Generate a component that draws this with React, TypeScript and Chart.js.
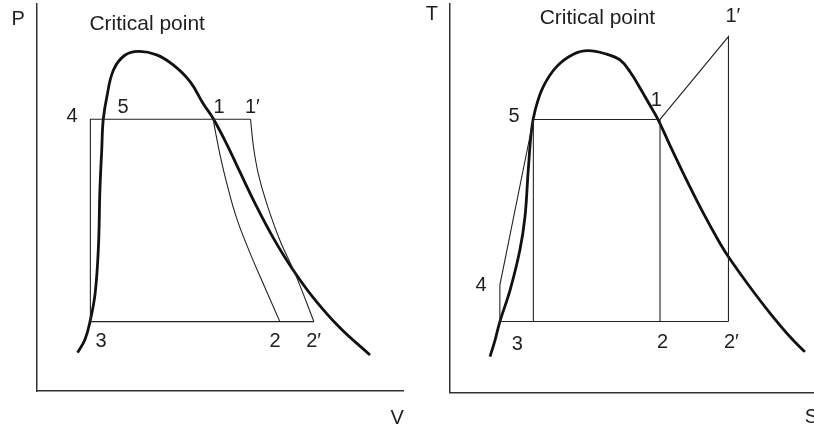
import React, { useEffect, useRef } from "react";
import { Chart, registerables } from "chart.js";
Chart.register(...registerables);

// ---------- P-V diagram ----------
const pvDomeV = [11.2, 13.2, 14.6, 16.0, 16.9, 17.3, 17.8, 18.2, 19.2, 21.0, 24.1, 27.9, 32.8, 37.3, 41.9, 45.5, 48.2, 51.9, 55.5, 60.1, 64.6, 69.6, 75.5, 82.8, 91.0];
const pvDomeP = [9.9, 13.2, 17.9, 25.2, 37.2, 51.8, 62.2, 69.9, 75.9, 82.8, 86.6, 87.6, 86.7, 84.1, 79.8, 74.1, 70.3, 63.7, 56.5, 47.5, 39.5, 31.8, 24.1, 16.3, 9.3];
const pvCycleV = [58.4, 14.7, 14.7, 75.7];
const pvCycleP = [70.1, 70.1, 17.9, 17.9];
const pvExpV = [48.2, 49.0, 50.1, 51.9, 54.6, 58.3, 61.9, 66.4];
const pvExpP = [70.1, 66.0, 60.8, 53.6, 44.6, 35.5, 27.6, 17.9];
const pvSupV = [58.4, 59.2, 60.5, 62.8, 66.4, 70.5, 75.7];
const pvSupP = [70.1, 63.0, 56.1, 48.4, 38.9, 30.4, 17.9];
const pvLabelText = ["P", "V", "Critical point", "4", "5", "1", "1\u2032", "3", "2", "2\u2032"];
const pvLabelV = [-5.0, 98.4, 30.2, 9.7, 23.6, 49.8, 58.9, 17.6, 65.1, 75.6];
const pvLabelP = [95.7, -7.2, 94.5, 70.8, 73.1, 73.1, 73.1, 12.9, 12.9, 12.9];

// ---------- T-S diagram ----------
const tsDomeS = [11.0, 12.4, 13.7, 16.5, 19.2, 20.6, 21.5, 22.4, 23.4, 25.6, 29.3, 33.9, 38.0, 43.0, 46.7, 49.5, 52.2, 54.9, 57.2, 60.4, 65.0, 69.6, 74.2, 76.9, 82.4, 87.9, 93.4, 97.5];
const tsDomeT = [9.3, 13.6, 18.3, 26.4, 36.7, 45.3, 57.3, 67.6, 72.7, 78.7, 83.9, 87.1, 88.0, 87.1, 85.6, 82.5, 78.4, 74.0, 70.2, 63.7, 54.7, 46.2, 38.4, 34.4, 27.2, 20.5, 14.4, 10.5];
const tsCycleS = [76.5, 13.7, 13.7, 22.9, 57.7, 76.5, 76.5];
const tsCycleT = [18.3, 18.3, 27.7, 70.3, 70.3, 91.6, 18.3];
const tsLine5S = [22.9, 22.9];
const tsLine5T = [70.3, 18.3];
const tsLine1S = [57.7, 57.7];
const tsLine1T = [70.3, 18.3];
const tsLabelText = ["T", "S", "Critical point", "1\u2032", "1", "5", "4", "3", "2", "2\u2032"];
const tsLabelS = [-5.0, 99.3, 40.5, 77.7, 56.7, 17.6, 8.5, 18.5, 58.4, 77.3];
const tsLabelT = [97.2, -6.5, 96.4, 96.7, 75.3, 71.0, 27.6, 12.5, 13.0, 13.0];

const FONT = '"Liberation Sans", Arial, Helvetica, sans-serif';

const zip = (xs: number[], ys: number[]) => xs.map((x, i) => ({ x, y: ys[i] }));

function makeLabelPlugin(texts: string[], xs: number[], ys: number[]) {
  return {
    id: "textLabels",
    afterDatasetsDraw(chart: any) {
      const { ctx, scales } = chart;
      ctx.save();
      ctx.fillStyle = "#1e1e1e";
      ctx.textAlign = "center";
      ctx.textBaseline = "middle";
      texts.forEach((t, i) => {
        const size = t.length > 3 ? 21 : 20;
        ctx.font = `${size}px ${FONT}`;
        ctx.fillText(t, scales.x.getPixelForValue(xs[i]), scales.y.getPixelForValue(ys[i]));
      });
      ctx.restore();
    },
  };
}

function thick(data: any) {
  return { data, showLine: true, borderColor: "#111", borderWidth: 2.8, pointRadius: 0, tension: 0.4, fill: false };
}
function thin(data: any, curved = false) {
  return { data, showLine: true, borderColor: "#222", borderWidth: 1.1, pointRadius: 0, tension: curved ? 0.4 : 0, fill: false };
}

function baseOptions(padding: any) {
  const axis = {
    type: "linear",
    min: 0,
    max: 100,
    grid: { display: false, drawTicks: false },
    ticks: { display: false },
    border: { display: true, color: "#333", width: 1.5 },
    title: { display: false },
  };
  return {
    responsive: false,
    maintainAspectRatio: false,
    animation: false,
    devicePixelRatio: 1,
    layout: { padding },
    plugins: { legend: { display: false }, tooltip: { enabled: false } },
    events: [],
    scales: { x: { ...axis }, y: { ...axis } },
  };
}

function useChart(ref: any, config: () => any) {
  useEffect(() => {
    const chart = new Chart(ref.current, config());
    return () => chart.destroy();
  }, []);
}

export default function App() {
  const pvRef = useRef<HTMLCanvasElement>(null);
  const tsRef = useRef<HTMLCanvasElement>(null);

  useChart(pvRef, () => ({
    type: "scatter",
    data: {
      datasets: [
        thin(zip(pvCycleV, pvCycleP)),
        thin(zip(pvExpV, pvExpP), true),
        thin(zip(pvSupV, pvSupP), true),
        thick(zip(pvDomeV, pvDomeP)),
      ],
    },
    options: baseOptions({ left: 36.5, top: 3.3, right: 7, bottom: 40 }),
    plugins: [makeLabelPlugin(pvLabelText, pvLabelV, pvLabelP)],
  }));

  useChart(tsRef, () => ({
    type: "scatter",
    data: {
      datasets: [
        thin(zip(tsCycleS, tsCycleT)),
        thin(zip(tsLine5S, tsLine5T)),
        thin(zip(tsLine1S, tsLine1T)),
        thick(zip(tsDomeS, tsDomeT)),
      ],
    },
    options: baseOptions({ left: 40, top: 4, right: 0, bottom: 38.3 }),
    plugins: [makeLabelPlugin(tsLabelText, tsLabelS, tsLabelT)],
  }));

  return (
    <div style={{ position: "absolute", left: 0, top: 0, width: 814, height: 431, background: "#fff", overflow: "hidden" }}>
      <canvas ref={pvRef} width={410} height={431} style={{ position: "absolute", left: 0, top: 0, width: 410, height: 431 }} />
      <canvas ref={tsRef} width={404} height={431} style={{ position: "absolute", left: 410, top: 0, width: 404, height: 431 }} />
    </div>
  );
}
